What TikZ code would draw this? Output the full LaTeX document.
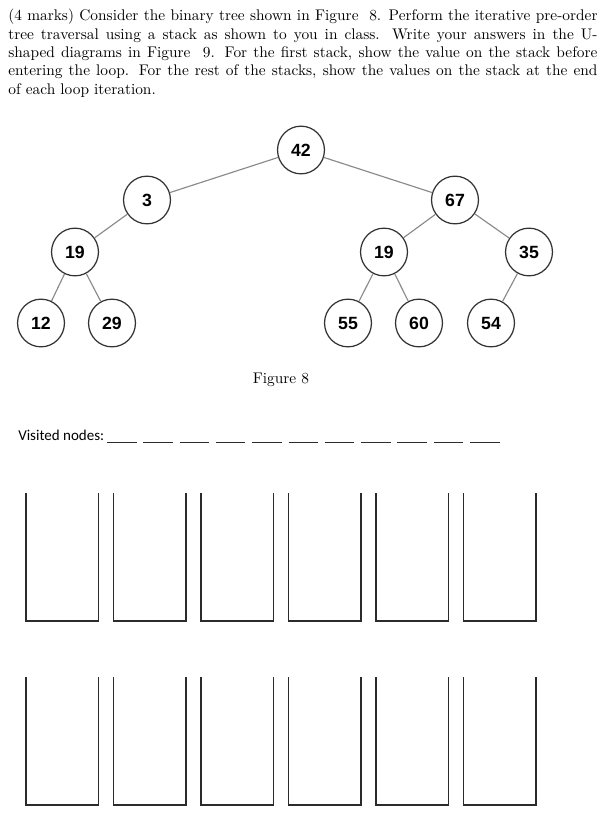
\documentclass[tikz,border=0pt]{standalone}
\usepackage{fontspec}
\newfontfamily\nodefont{Liberation Sans}
\newfontfamily\formfont{Carlito}
\usepackage{xcolor}
\definecolor{edgegray}{HTML}{8A8A8A}
\definecolor{ringgray}{HTML}{333333}
\definecolor{inkblack}{HTML}{2B2B2B}
\usepackage{tikz}
\usetikzlibrary{shapes.geometric}

\tikzset{
  treenode/.style={ellipse, draw=ringgray, line width=0.8pt, fill=white,
    minimum width=30.5pt, minimum height=31pt, inner sep=0pt,
    font=\nodefont\bfseries\fontsize{11.5}{13}\selectfont},
  treeedge/.style={edgegray, line width=0.75pt},
  stackline/.style={inkblack, line width=0.95pt},
  blankline/.style={inkblack, line width=0.6pt},
}

\begin{document}
\begin{tikzpicture}[x=0.65pt, y=-0.65pt]
\useasboundingbox (0,0) rectangle (610,831);

% Question text
\node[anchor=north west, inner sep=0pt, text width=383pt, align=justify,
      font=\fontsize{10}{11.9}\selectfont] (question) at (8,9)
  {(4 marks) Consider the binary tree shown in Figure~ 8. Perform the iterative pre-order\linebreak
   tree traversal using a stack as shown to you in class. Write your answers in the U-\linebreak
   shaped diagrams in Figure~ 9. For the first stack, show the value on the stack before\linebreak
   entering the loop. For the rest of the stacks, show the values on the stack at the end\linebreak
   of each loop iteration.};

% Tree nodes
\foreach \name/\x/\y/\val in {root/301/150/42, a/147/200/3, b/455/200/67,
    aa/75/252/19, ba/384/252/19, bb/529/252/35,
    aaa/41/323/12, aab/112/323/29, baa/348/323/55, bab/419/323/60, bba/491/323/54}
  \node[treenode] (\name) at (\x,\y) {\val};

% Tree edges
\foreach \p/\c in {root/a, root/b, a/aa, aa/aaa, aa/aab,
    b/ba, b/bb, ba/baa, ba/bab, bb/bba}
  \draw[treeedge] (\p) -- (\c);

% Caption
\node[anchor=base, inner sep=0pt, font=\fontsize{10}{12}\selectfont]
  (caption) at (281,383) {Figure 8};

% Visited nodes
\node[anchor=base west, inner sep=0pt, font=\formfont\fontsize{9.75}{11}\selectfont]
  (visited) at (18,440) {Visited nodes:};
\foreach \i in {0,...,10}
  \draw[blankline] (107+36.3*\i,442) -- ++(29.5,0);

% U-shaped stacks
\foreach \top in {493, 677}
  \foreach \i in {0,...,5}
    \draw[stackline] (26+87.5*\i,\top) -- ++(0,128) -- ++(72.5,0) -- ++(0,-128);
\end{tikzpicture}
\end{document}
